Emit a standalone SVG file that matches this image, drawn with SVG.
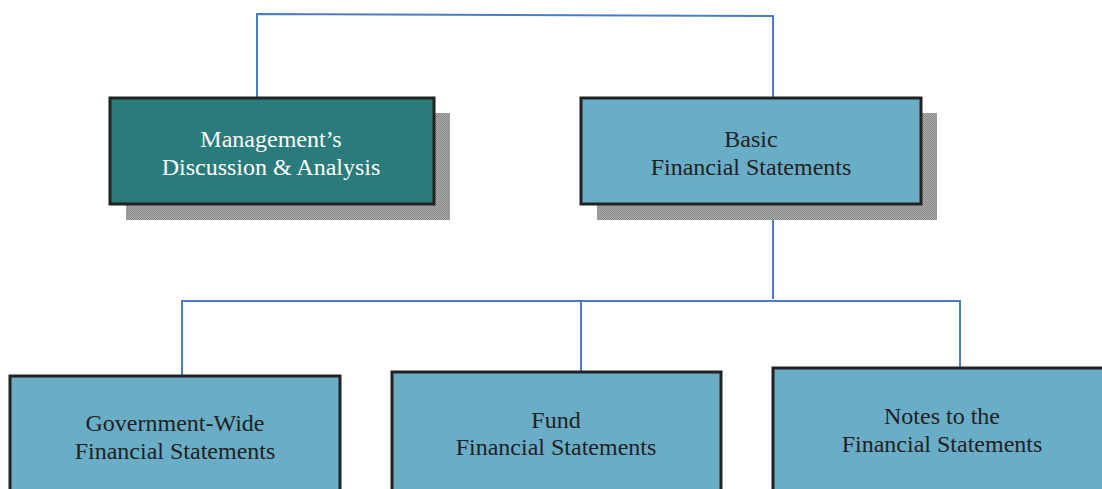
<svg xmlns="http://www.w3.org/2000/svg" width="1102" height="489" viewBox="0 0 1102 489">
<style>
.box{stroke:#222;stroke-width:3}
.teal{fill:#2a7b7c}
.blue{fill:#6aadc7}
.shadow{fill:url(#chk)}
.t{font-family:"Liberation Serif","Times New Roman",serif;font-size:24px;text-anchor:middle;fill:#222}
.w{fill:#fff}
.c{fill:none;stroke:#4a7dc2;stroke-width:2}
</style>
<defs>
<pattern id="chk" width="2" height="2" patternUnits="userSpaceOnUse">
<rect width="2" height="2" fill="#ababab"/>
<rect width="1" height="1" fill="#888"/>
<rect x="1" y="1" width="1" height="1" fill="#888"/>
</pattern>
</defs>
<g id="connectors">
<polyline class="c" points="257,97 257,14 773,16 773,97"/>
<line class="c" x1="773" y1="204" x2="773" y2="299"/>
<polyline class="c" points="182,375 182,301 960,301 960,367"/>
<line class="c" x1="581" y1="301" x2="581" y2="371"/>
</g>
<g id="mdna">
<rect class="shadow" x="126" y="113" width="324" height="107"/>
<rect class="box teal" x="110" y="98" width="324" height="106"/>
<text class="t w" x="271" y="147">Management’s</text>
<text class="t w" x="271" y="175">Discussion &amp; Analysis</text>
</g>
<g id="basic">
<rect class="shadow" x="597" y="113" width="340" height="107"/>
<rect class="box blue" x="581" y="98" width="340" height="106"/>
<text class="t" x="751" y="147">Basic</text>
<text class="t" x="751" y="175">Financial Statements</text>
</g>
<g id="govwide">
<rect class="box blue" x="10" y="376" width="330" height="120"/>
<text class="t" x="175" y="431">Government-Wide</text>
<text class="t" x="175" y="459">Financial Statements</text>
</g>
<g id="fund">
<rect class="box blue" x="392" y="372" width="329" height="124"/>
<text class="t" x="556" y="428">Fund</text>
<text class="t" x="556" y="455">Financial Statements</text>
</g>
<g id="notes">
<rect class="box blue" x="773" y="368" width="340" height="128"/>
<text class="t" x="942" y="424">Notes to the</text>
<text class="t" x="942" y="452">Financial Statements</text>
</g>
</svg>
